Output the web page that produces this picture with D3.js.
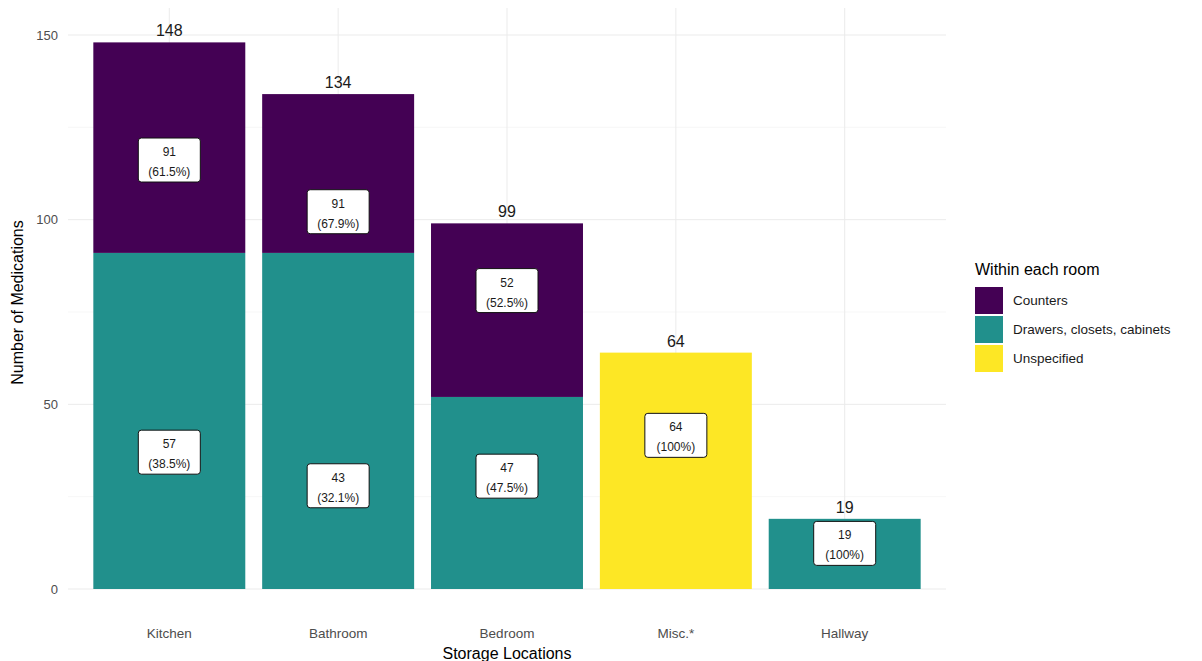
<!DOCTYPE html>
<html><head><meta charset="utf-8">
<script src="https://cdn.jsdelivr.net/npm/d3@7"></script>
<style>body{margin:0;background:#fff;} svg{display:block;font-family:"Liberation Sans",Arial,sans-serif;}</style>
</head><body>
<svg id="c" width="1202" height="661"></svg>
<script>
const categories = ["Kitchen","Bathroom","Bedroom","Misc.*","Hallway"];
const groups = ["Counters","Drawers, closets, cabinets","Unspecified"];
const colors = ["#440154","#21908C","#FDE725"];
// bar segment heights as drawn
const drawers = [91, 91, 52, 0, 19];
const counters = [57, 43, 47, 0, 0];
const unspecified = [0, 0, 0, 64, 0];
const totals = [148, 134, 99, 64, 19];
// box labels (bottom, top) as shown in the reference
const labelBottom = ["57\n(38.5%)","43\n(32.1%)","47\n(47.5%)","64\n(100%)","19\n(100%)"];
const labelBottomVal = [57, 43, 47, 64, 19];
const labelTop = ["91\n(61.5%)","91\n(67.9%)","52\n(52.5%)",null,null];
const labelTopVal = [91, 91, 52, 0, 0];
const yTicks = [0, 50, 100, 150];
const yMinor = [25, 75, 125];

const svg = d3.select("#c");
const L = 68, R = 946, T = 8, B = 589;
// ggplot: discrete expand 0.6, width 0.9
const x = d3.scalePoint().domain(categories).range([L, R]).padding(0.6);
const step = x.step();
const cx = i => x(categories[i]);
const bw = step * 0.9;
const y = d3.scaleLinear().domain([0, 150]).range([B, 35]);

const g = svg.append("g");
// grid
yMinor.forEach(v => g.append("line").attr("x1", L).attr("x2", R).attr("y1", y(v)).attr("y2", y(v)).attr("stroke", "#f2f2f2").attr("stroke-width", 0.6));
yTicks.forEach(v => g.append("line").attr("x1", L).attr("x2", R).attr("y1", y(v)).attr("y2", y(v)).attr("stroke", "#ebebeb").attr("stroke-width", 1));
categories.forEach((c, i) => g.append("line").attr("x1", cx(i)).attr("x2", cx(i)).attr("y1", T).attr("y2", B).attr("stroke", "#ebebeb").attr("stroke-width", 1));

// bars
const stacks = categories.map((c, i) => {
  const segs = [];
  let base = 0;
  [[drawers[i], 1], [counters[i], 0], [unspecified[i], 2]].forEach(([v, k]) => {
    if (v > 0) { segs.push({i, k, y0: base, y1: base + v}); base += v; }
  });
  return segs;
}).flat();
g.selectAll("rect.bar").data(stacks).join("rect")
  .attr("x", d => cx(d.i) - bw / 2).attr("width", bw)
  .attr("y", d => y(d.y1)).attr("height", d => y(d.y0) - y(d.y1))
  .attr("fill", d => colors[d.k]);

// totals
totals.forEach((t, i) => g.append("text").attr("x", cx(i)).attr("y", y(t) - 6)
  .attr("text-anchor", "middle").attr("font-size", 16).attr("fill", "#1a1a1a").text(t));

// boxed labels
function boxLabel(i, val, txt) {
  const lines = txt.split("\n");
  const gg = g.append("g").attr("transform", `translate(${cx(i)},${y(val)})`);
  gg.append("rect").attr("x", -31).attr("y", -22).attr("width", 62).attr("height", 44)
    .attr("rx", 3).attr("fill", "#fff").attr("stroke", "#111").attr("stroke-width", 1);
  gg.append("text").attr("text-anchor", "middle").attr("font-size", 12).attr("fill", "#1a1a1a").attr("y", -4).text(lines[0]);
  gg.append("text").attr("text-anchor", "middle").attr("font-size", 12).attr("fill", "#1a1a1a").attr("y", 16).text(lines[1]);
}
categories.forEach((c, i) => {
  boxLabel(i, labelBottomVal[i] * 0.65, labelBottom[i]);
  if (labelTop[i]) boxLabel(i, labelBottomVal[i] + labelTopVal[i] * 0.65, labelTop[i]);
});

// axes text
yTicks.forEach(v => g.append("text").attr("x", 58).attr("y", y(v) + 4.5).attr("text-anchor", "end")
  .attr("font-size", 13).attr("fill", "#4d4d4d").text(v));
categories.forEach((c, i) => g.append("text").attr("x", cx(i)).attr("y", 638).attr("text-anchor", "middle")
  .attr("font-size", 13.5).attr("fill", "#4d4d4d").text(c));
svg.append("text").attr("x", cx(2)).attr("y", 659).attr("text-anchor", "middle").attr("font-size", 16).attr("fill", "#000").text("Storage Locations");
svg.append("text").attr("transform", `translate(23,${(T + B) / 2 + 4}) rotate(-90)`).attr("text-anchor", "middle")
  .attr("font-size", 16).attr("fill", "#000").text("Number of Medications");

// legend
const lg = svg.append("g").attr("transform", "translate(975,0)");
lg.append("text").attr("x", 0).attr("y", 275).attr("font-size", 16).attr("fill", "#000").text("Within each room");
groups.forEach((gname, k) => {
  lg.append("rect").attr("x", 0).attr("y", 287 + k * 29).attr("width", 28).attr("height", 27).attr("fill", colors[k]);
  lg.append("text").attr("x", 38).attr("y", 287 + k * 29 + 18).attr("font-size", 13.5).attr("fill", "#1a1a1a").text(gname);
});
</script>
</body></html>
